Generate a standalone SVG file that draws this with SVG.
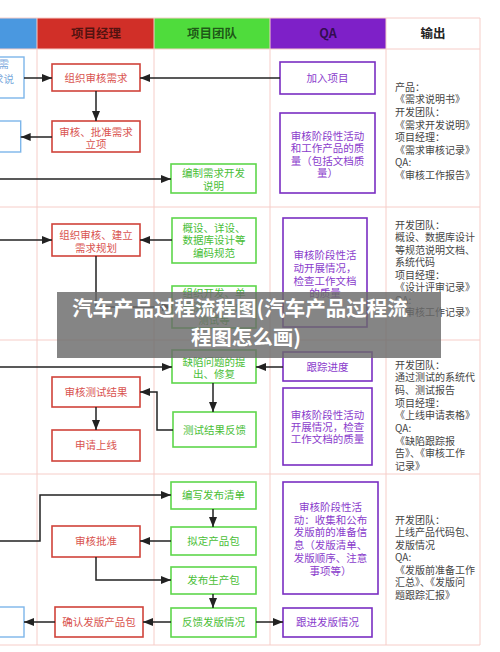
<svg xmlns="http://www.w3.org/2000/svg" width="500" height="652" viewBox="0 0 500 652">
<style>
text{font-family:"Noto Sans CJK SC","Noto Sans",sans-serif;}
.grid{stroke:#f6cdc8;stroke-width:1;fill:none;}
.hd{font-size:12.5px;font-weight:bold;text-anchor:middle;}
.r rect{fill:#fff;stroke:#d0433a;stroke-width:1.6;}
.r text{fill:#d9534f;font-size:10.5px;text-anchor:middle;}
.g rect{fill:#fff;stroke:#5ed64b;stroke-width:1.6;}
.g text{fill:#49be36;font-size:10.5px;text-anchor:middle;}
.p rect{fill:#fff;stroke:#7a2ec2;stroke-width:1.6;}
.p text{fill:#8a3ccc;font-size:10.5px;text-anchor:middle;}
.b rect{fill:#fff;stroke:#7db6ea;stroke-width:1.4;}
.b text{fill:#7aa9dc;font-size:10.5px;text-anchor:end;}
.out text{fill:#454545;font-size:10px;}
.cn path{fill:none;stroke:#222;stroke-width:1.5;marker-end:url(#ah);}
.cn path.na{marker-end:none;}
.ban{font-size:20.5px;font-weight:bold;fill:#fff;text-anchor:middle;}
</style>
<defs>
<marker id="ah" markerUnits="userSpaceOnUse" markerWidth="10" markerHeight="8" refX="10" refY="4" orient="auto">
<path d="M0,0 L10,4 L0,8 z" fill="#222"/>
</marker>
</defs>
<rect width="500" height="652" fill="#fff"/>
<g id="lanes">
<rect x="0" y="18" width="37" height="31" fill="#4a98e0"/>
<rect x="37" y="18" width="117" height="31" fill="#d12f28"/>
<rect x="154" y="18" width="116" height="31" fill="#4fdc3c"/>
<rect x="270" y="18" width="116" height="31" fill="#7e20c8"/>
<path class="grid" d="M37,18V645M154,18V645M270,18V645M386,18V645M480,18V645M0,18H480M0,49H480M0,207H480M0,340H480M0,474H480M0,645H480"/>
<text class="hd" x="96" y="38" fill="#000" fill-opacity="0.62">项目经理</text>
<text class="hd" x="212" y="38" fill="#000" fill-opacity="0.62">项目团队</text>
<text class="hd" x="328" y="38" fill="#000" fill-opacity="0.62" font-family="Liberation Sans,sans-serif">QA</text>
<text class="hd" x="433" y="38" fill="#222">输出</text>
</g>
<g id="blue-req" class="b"><rect x="-10" y="57" width="34" height="41"/><text x="9" y="68">需</text><text x="14" y="83">求说</text></g>
<g id="blue-approve" class="b"><rect x="-10" y="121" width="30.7" height="31"/></g>
<g id="blue-confirm" class="b"><rect x="-10" y="607" width="34" height="30"/></g>

<g id="pm-organize-review" class="r"><rect x="52" y="64" width="88" height="27"/><text x="96" y="81.8">组织审核需求</text></g>
<g id="pm-approve" class="r"><rect x="52" y="121" width="88" height="31"/><text x="96" y="135.5">审核、批准需求</text><text x="96" y="148">立项</text></g>
<g id="pm-plan" class="r"><rect x="52" y="224" width="88" height="32"/><text x="96" y="239">组织审核、建立</text><text x="96" y="251.5">需求规划</text></g>
<g id="pm-review-test" class="r"><rect x="52" y="377" width="88" height="30"/><text x="96" y="395.8">审核测试结果</text></g>
<g id="pm-apply" class="r"><rect x="52" y="430" width="88" height="31"/><text x="96" y="449.3">申请上线</text></g>
<g id="pm-approve-release" class="r"><rect x="52" y="526" width="88" height="31"/><text x="96" y="545.3">审核批准</text></g>
<g id="pm-confirm" class="r"><rect x="55" y="607" width="88" height="30"/><text x="99" y="625.8">确认发版产品包</text></g>

<g id="team-spec" class="g"><rect x="171" y="164" width="85" height="29"/><text x="213.5" y="177">编制需求开发</text><text x="213.5" y="189.5">说明</text></g>
<g id="team-design" class="g"><rect x="172" y="218" width="84" height="45"/><text x="214" y="231.8">概设、详设、</text><text x="214" y="244.3">数据库设计等</text><text x="214" y="256.8">编码规范</text></g>
<g id="team-dev" class="g"><rect x="172" y="286" width="84" height="42"/><text x="214" y="297">组织开发、单</text><text x="214" y="310.5">元测试、集成</text><text x="214" y="324">测试等</text></g>
<g id="team-defect" class="g"><rect x="172" y="350" width="84" height="33"/><text x="214" y="365.5">缺陷问题的提</text><text x="214" y="378">出、修复</text></g>
<g id="team-feedback" class="g"><rect x="173" y="412" width="83" height="35"/><text x="214.5" y="433.8">测试结果反馈</text></g>
<g id="team-list" class="g"><rect x="171" y="482" width="85" height="27"/><text x="213.5" y="498.8">编写发布清单</text></g>
<g id="team-package" class="g"><rect x="171" y="527" width="85" height="28"/><text x="213.5" y="544.8">拟定产品包</text></g>
<g id="team-publish" class="g"><rect x="171" y="567" width="85" height="27"/><text x="213.5" y="583.8">发布生产包</text></g>
<g id="team-release-fb" class="g"><rect x="171" y="608" width="85" height="29"/><text x="213.5" y="625.8">反馈发版情况</text></g>

<g id="qa-join" class="p"><rect x="280" y="62" width="95" height="32"/><text x="327.5" y="81.8">加入项目</text></g>
<g id="qa-review1" class="p"><rect x="280" y="113" width="95" height="80"/><text x="327.5" y="139.8">审核阶段性活动</text><text x="327.5" y="152.3">和工作产品的质</text><text x="327.5" y="164.8">量（包括文档质</text><text x="327.5" y="177.3">量）</text></g>
<g id="qa-review2" class="p"><rect x="283" y="218" width="84" height="109"/><text x="325" y="258.8">审核阶段性活</text><text x="325" y="271.8">动开展情况，</text><text x="325" y="284.8">检查工作文档</text><text x="325" y="297.3">的质量</text></g>
<g id="qa-track" class="p"><rect x="283" y="352" width="89" height="29"/><text x="327.5" y="370.8">跟踪进度</text></g>
<g id="qa-review3" class="p"><rect x="283" y="388" width="89" height="77"/><text x="327.5" y="418.8">审核阶段性活动</text><text x="327.5" y="430.8">开展情况，检查</text><text x="327.5" y="442.8">工作文档的质量</text></g>
<g id="qa-review4" class="p"><rect x="283" y="482" width="95" height="112"/><text x="330.5" y="510.8">审核阶段性活</text><text x="330.5" y="523.6">动：收集和公布</text><text x="330.5" y="536.4">发版前的准备信</text><text x="330.5" y="549.2">息（发版清单、</text><text x="330.5" y="562">发版顺序、注意</text><text x="330.5" y="574.8">事项等）</text></g>
<g id="qa-follow" class="p"><rect x="283" y="608" width="89" height="29"/><text x="327.5" y="625.8">跟进发版情况</text></g>

<g id="outputs" class="out">
<text x="395" y="90.5">产品：</text>
<text x="395" y="103">《需求说明书》</text>
<text x="395" y="116">开发团队：</text>
<text x="395" y="128.5">《需求开发说明》</text>
<text x="395" y="141">项目经理：</text>
<text x="395" y="153.5">《需求审核记录》</text>
<text x="395" y="166" font-family="Liberation Sans,sans-serif">QA:</text>
<text x="395" y="178.5">《审核工作报告》</text>

<text x="395" y="228.5">开发团队：</text>
<text x="395" y="241">概设、数据库设计</text>
<text x="395" y="253.5">等规范说明文档、</text>
<text x="395" y="266">系统代码</text>
<text x="395" y="278.5">项目经理：</text>
<text x="395" y="291">《设计评审记录》</text>
<text x="395" y="303.5" font-family="Liberation Sans,sans-serif">QA:</text>
<text x="395" y="316">《审核工作记录》</text>

<text x="395" y="368.5">开发团队：</text>
<text x="395" y="381.2">通过测试的系统代</text>
<text x="395" y="393.9">码、测试报告</text>
<text x="395" y="406.6">项目经理：</text>
<text x="395" y="419.3">《上线申请表格》</text>
<text x="395" y="432" font-family="Liberation Sans,sans-serif">QA:</text>
<text x="395" y="444.7">《缺陷跟踪报</text>
<text x="395" y="457.4">告》、《审核工作</text>
<text x="395" y="470.1">记录》</text>

<text x="395" y="523.5">开发团队：</text>
<text x="395" y="536">上线产品代码包、</text>
<text x="395" y="548.5">发版情况</text>
<text x="395" y="561" font-family="Liberation Sans,sans-serif">QA:</text>
<text x="395" y="573.5">《发版前准备工作</text>
<text x="395" y="586">汇总》、《发版问</text>
<text x="395" y="598.5">题跟踪汇报》</text>
</g>

<g id="connectors" class="cn">
<path d="M24,78H52"/>
<path d="M280,78H140"/>
<path d="M96,91V121"/>
<path d="M52,137H20.7"/>
<path d="M0,179H171"/>
<path d="M0,240H52"/>
<path d="M172,240H140"/>
<path d="M96,256V307H172"/>
<path d="M0,367H172"/>
<path d="M213,383V412"/>
<path d="M173,430H157V392H140"/>
<path d="M96,407V430"/>
<path d="M283,367H256"/>
<path d="M0,541H40V495H171"/>
<path d="M213,509V527"/>
<path d="M171,541H140"/>
<path d="M96,557V580H171"/>
<path d="M213,594V608"/>
<path d="M171,622H143"/>
<path d="M55,622H24"/>
<path d="M256,622H283"/>
</g>

<g id="banner">
<rect x="57" y="292" width="384" height="66" fill="#6a6a6a" fill-opacity="0.82"/>
<text class="ban" x="240" y="316">汽车产品过程流程图(汽车产品过程流</text>
<text class="ban" x="246" y="345">程图怎么画)</text>
</g>
</svg>
